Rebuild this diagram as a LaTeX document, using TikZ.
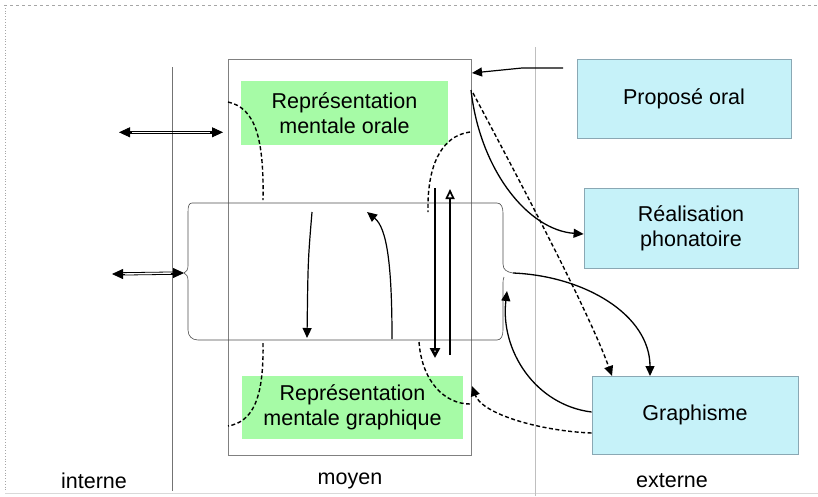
\documentclass[tikz,border=0pt]{standalone}
\usepackage{fontspec}
\setmainfont{Liberation Sans}
\usetikzlibrary{arrows.meta}
\definecolor{mygreen}{HTML}{A6FBA6}
\definecolor{myblue}{HTML}{C6F2F9}
\definecolor{blueedge}{HTML}{8AA8B4}
\newcommand\bigf{\fontsize{21.5}{25}\selectfont}
\tikzset{
  greenbox/.style={fill=mygreen, inner sep=0pt, align=center, font=\bigf},
  bluebox/.style={fill=myblue, draw=blueedge, line width=0.8pt, inner sep=0pt, align=center, font=\bigf},
  botlabel/.style={font=\bigf, inner sep=0pt},
  arrtip/.style={-{Triangle[length=10pt,width=9pt]}},
  rail/.style={line width=0.8pt, shorten <=8pt, shorten >=8pt},
  headtip/.style={line width=0.8pt, -{Triangle[length=11pt,width=10pt]}},
  dashline/.style={dash pattern=on 4pt off 2.5pt, line width=1.4pt},
}
\begin{document}
\begin{tikzpicture}[x=1pt,y=-1pt]
\useasboundingbox (0,0) rectangle (818,496);
% outer frame
\draw[gray!70, dashed, line width=0.8pt] (4,5) -- (818,5);
\draw[gray!70, dotted, line width=0.8pt] (5,5) -- (5,492);
\draw[gray!30, line width=0.8pt] (5,493) -- (818,493);
% separators
\draw[gray!90!black, line width=0.6pt] (172,67) -- (172,491);
\draw[gray!50, line width=1pt] (535,47) -- (535,496);
% middle rectangle
\node[draw=gray, line width=0.8pt, minimum width=243pt, minimum height=396pt, inner sep=0pt] (mid) at (349.5,257) {};
% green boxes
\node[greenbox, minimum width=207pt, minimum height=64pt] (orale) at (344.5,113) {Représentation\\mentale orale};
\node[greenbox, minimum width=221pt, minimum height=63pt] (graph) at (352.5,407.5) {Représentation\\mentale graphique};
% blue boxes
\node[bluebox, minimum width=214pt, minimum height=79pt] (prop) at (684,98.5) {Proposé oral};
\node[bluebox, minimum width=214pt, minimum height=80pt] (real) at (691,228) {Réalisation\\phonatoire};
\node[bluebox, minimum width=206pt, minimum height=78pt] (graphisme) at (695,415) {Graphisme};
% tube
\coordinate (tubeL) at (184,273);
\coordinate (tubeR) at (513,273);
\draw[gray!60!black, line width=0.6pt]
  (192,203) -- (497,203) .. controls (501,203) and (503,207) .. (503,213)
  -- (503,264) .. controls (503,270) and (507,272) .. (tubeR)
  (504,277) .. controls (503,279) and (503,281) .. (503,285)
  -- (503,330) .. controls (503,336) and (501,340) .. (497,340)
  -- (198,340) .. controls (192,340) and (188,336) .. (188,330)
  -- (188,280) .. controls (188,276) and (186,274) .. (tubeL)
  .. controls (186,272) and (188,270) .. (188,266)
  -- (188,212) .. controls (188,206) and (189,203) .. (192,203);
% left double arrows (two rails + heads)
\coordinate (a1s) at (119,132.3);
\coordinate (a1e) at (223,132.3);
\draw[rail] ([yshift=1.2pt]a1s) -- ([yshift=1.2pt]a1e);
\draw[rail] ([yshift=-1.2pt]a1s) -- ([yshift=-1.2pt]a1e);
\draw[headtip] ([xshift=13pt]a1s) -- (a1s);
\draw[headtip] ([xshift=-13pt]a1e) -- (a1e);
\coordinate (a2s) at (112,274);
\draw[rail] ([yshift=1.2pt]a2s) -- ([yshift=1.2pt]tubeL);
\draw[rail] ([yshift=-1.2pt]a2s) -- ([yshift=-1.2pt]tubeL);
\draw[headtip] ([xshift=13pt]a2s) -- (a2s);
\draw[headtip] ([xshift=-13pt]tubeL) -- (tubeL);
% dashed arcs left
\coordinate (dl1) at (228,102);
\coordinate (dl2) at (263,200);
\coordinate (dl3) at (263,343);
\coordinate (dl4) at (228,426);
\draw[dashline] (dl1) .. controls (256,108) and (264,140) .. (dl2);
\draw[dashline] (dl3) .. controls (264,400) and (252,422) .. (dl4);
% dashed arcs right
\coordinate (dr1) at (470,132);
\coordinate (dr2) at (428,212);
\coordinate (dr3) at (419,342);
\coordinate (dr4) at (470,404);
\draw[dashline] (dr1) .. controls (440,136) and (427,168) .. (dr2);
\draw[dashline] (dr3) .. controls (422,382) and (445,404) .. (dr4);
% arrows inside tube
\coordinate (v1s) at (312,212);
\coordinate (v1e) at (307,338);
\draw[line width=1.2pt, arrtip] (v1s) .. controls (308,260) .. (v1e);
\coordinate (v2s) at (392,339);
\coordinate (v2e) at (367,212);
\draw[line width=1.2pt, arrtip] (v2s) .. controls (392,265) and (387,228) .. (v2e);
% thick vertical arrows
\coordinate (t1s) at (435,188);
\coordinate (t1e) at (435,358);
\draw[line width=2.8pt, -{Triangle[open,length=10pt,width=10pt]}] (t1s) -- (t1e);
\coordinate (t2s) at (450,355);
\coordinate (t2e) at (450,189);
\draw[line width=1.7pt, -{Triangle[open,length=10pt,width=9pt]}] (t2s) -- (t2e);
% proposé oral -> middle
\coordinate (p1) at (563,68);
\coordinate (p2) at (472,73);
\draw[line width=1.2pt, arrtip] (p1) -- (522,68) -- (p2);
% middle -> réalisation
\coordinate (m1) at (471,90);
\draw[line width=1.3pt, arrtip] (m1) .. controls (480,170) and (528,230) .. (real.west |- 0,234);
% dashed middle -> graphisme
\coordinate (m2) at (473,93);
\draw[dashline, arrtip] (m2) .. controls (530,200) and (590,315) .. (612,376);
% tube -> graphisme
\draw[line width=1.3pt, arrtip] (tubeR) .. controls (585,276) and (650,315) .. (650,376);
% graphisme -> tube
\draw[line width=1.3pt, arrtip] (graphisme.west |- 0,412) .. controls (535,405) and (500,350) .. (507,291);
% graphisme -> middle (dashed)
\draw[dashline, arrtip] (graphisme.west |- 0,433) .. controls (540,431) and (482,414) .. (472,386);
% bottom labels
\node[botlabel] (interne) at (94,481) {interne};
\node[botlabel] (moyen) at (350,481) {moyen};
\node[botlabel] (externe) at (672,481) {externe};
\end{tikzpicture}
\end{document}
